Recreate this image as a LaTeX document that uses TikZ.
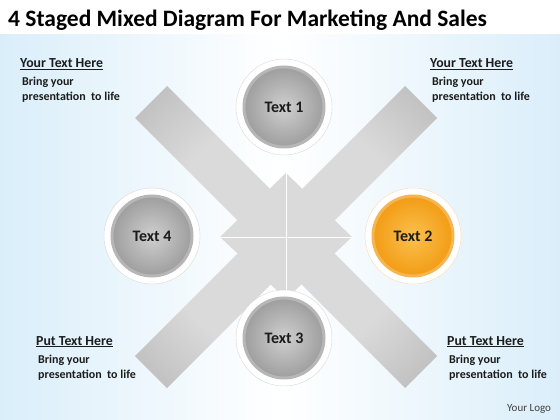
\documentclass[tikz,border=0pt]{standalone}
\usepackage{fontspec}
\setmainfont{Carlito}
\usetikzlibrary{positioning}
\definecolor{skyblue}{HTML}{DAEEFA}
\definecolor{armlight}{HTML}{DADADA}
\definecolor{armdark}{HTML}{9C9C9C}
\definecolor{inkgray}{HTML}{1C1C1C}
\definecolor{greyface}{HTML}{CFCFCF}
\definecolor{greyrim}{HTML}{9E9E9E}
\definecolor{amberface}{HTML}{FBC04E}
\definecolor{amberrim}{HTML}{F29C15}
\pgfdeclareradialshading{armshade}{\pgfpoint{0bp}{0bp}}{color(0bp)=(armlight); color(20bp)=(armlight); color(50bp)=(armdark); color(72bp)=(armdark)}
\tikzset{
  halo/.style={circle,fill=white,draw=black!15,minimum size=96pt,inner sep=0pt},
  stage/.style n args={2}{circle,inner sep=0pt,minimum size=80pt,line width=3pt,
    draw=#2!75!white,inner color=#1,outer color=#2,text=inkgray,
    font=\bfseries\fontsize{16}{18}\selectfont},
  head/.style={anchor=base west,inner sep=0pt,text=inkgray,
    font=\bfseries\fontsize{13.8}{16}\selectfont},
  body/.style={anchor=north west,inner sep=0pt,align=left,text=inkgray,
    font=\bfseries\fontsize{12}{15}\selectfont}
}

\begin{document}
\begin{tikzpicture}[x=1pt,y=-1pt]
  \useasboundingbox (0,0) rectangle (560,420);
  \fill[white] (0,0) rectangle (560,420);
  \shade[left color=skyblue,right color=skyblue,middle color=white] (0,35) rectangle (560,420);

  \node (title) [anchor=base west,inner sep=0pt,text=black,
    font=\bfseries\fontsize{23.5}{28}\selectfont] at (8,27)
    {4 Staged Mixed Diagram For Marketing And Sales};

  % the cross
  \begin{scope}[shift={(286,237)}]
    \shade[shading=armshade]
      (-119,-151) -- (151,119) -- (119,151) -- (-151,-119) -- cycle
      (119,-151) -- (151,-119) -- (-119,151) -- (-151,119) -- cycle
      (0,-64) -- (66,0) -- (0,62) -- (-66,0) -- cycle;
    \draw[white,line width=1pt] (0,-64) -- (0,62) (-66,0) -- (66,0);
  \end{scope}

  % stages
  \node (h1) [halo] at (284,107) {};
  \node (t1) [stage={greyface}{greyrim}] at (h1) {Text 1};
  \node (h2) [halo,draw=orange!30] at (413,236) {};
  \node (t2) [stage={amberface}{amberrim}] at (h2) {Text 2};
  \node (h3) [halo] at (284,338) {};
  \node (t3) [stage={greyface}{greyrim}] at (h3) {Text 3};
  \node (h4) [halo] at (152,236) {};
  \node (t4) [stage={greyface}{greyrim}] at (h4) {Text 4};

  % notes
  \node (nw) [head] at (20,68) {\underline{Your Text Here}};
  \node (nwtext) [body] at (22,77) {Bring your\\presentation~ to life};
  \node (ne) [head] at (430,68) {\underline{Your Text Here}};
  \node (netext) [body] at (432,77) {Bring your\\presentation~ to life};
  \node (sw) [head] at (36,345) {\underline{Put Text Here}};
  \node (swtext) [body] at (38,355) {Bring your\\presentation~ to life};
  \node (se) [head] at (447,345) {\underline{Put Text Here}};
  \node (setext) [body] at (449,355) {Bring your\\presentation~ to life};
  \node (logo) [anchor=base west,inner sep=0pt,text=black!75,
    font=\fontsize{11}{13}\selectfont] at (507,411) {Your Logo};
\end{tikzpicture}
\end{document}
